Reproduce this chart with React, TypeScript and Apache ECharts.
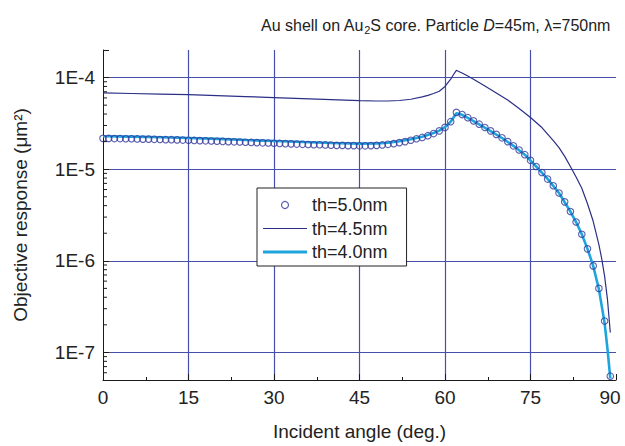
import React, { useEffect, useRef } from 'react';
import * as echarts from 'echarts';

// th = 5.0 nm (open circles), one point per degree
const th50Angles = [
  0, 1, 2, 3, 4, 5, 6, 7, 8, 9,
  10, 11, 12, 13, 14, 15, 16, 17, 18, 19,
  20, 21, 22, 23, 24, 25, 26, 27, 28, 29,
  30, 31, 32, 33, 34, 35, 36, 37, 38, 39,
  40, 41, 42, 43, 44, 45, 46, 47, 48, 49,
  50, 51, 52, 53, 54, 55, 56, 57, 58, 59,
  60, 61, 62, 63, 64, 65, 66, 67, 68, 69,
  70, 71, 72, 73, 74, 75, 76, 77, 78, 79,
  80, 81, 82, 83, 84, 85, 86, 87, 88, 89,
];
const th50Values = [
  2.17e-5, 2.17e-5, 2.16e-5, 2.16e-5, 2.15e-5, 2.15e-5, 2.14e-5, 2.13e-5, 2.13e-5, 2.12e-5,
  2.11e-5, 2.1e-5, 2.1e-5, 2.09e-5, 2.08e-5, 2.07e-5, 2.06e-5, 2.05e-5, 2.04e-5, 2.03e-5,
  2.02e-5, 2.01e-5, 2.0e-5, 1.99e-5, 1.98e-5, 1.97e-5, 1.96e-5, 1.95e-5, 1.94e-5, 1.93e-5,
  1.92e-5, 1.91e-5, 1.9e-5, 1.89e-5, 1.88e-5, 1.87e-5, 1.86e-5, 1.85e-5, 1.85e-5, 1.84e-5,
  1.83e-5, 1.82e-5, 1.82e-5, 1.81e-5, 1.81e-5, 1.8e-5, 1.8e-5, 1.81e-5, 1.82e-5, 1.84e-5,
  1.87e-5, 1.9e-5, 1.95e-5, 2.0e-5, 2.07e-5, 2.15e-5, 2.22e-5, 2.32e-5, 2.45e-5, 2.62e-5,
  2.86e-5, 3.3e-5, 4.17e-5, 3.95e-5, 3.65e-5, 3.37e-5, 3.1e-5, 2.85e-5, 2.62e-5, 2.4e-5,
  2.2e-5, 2.0e-5, 1.8e-5, 1.62e-5, 1.44e-5, 1.25e-5, 1.07e-5, 9.2e-6, 7.8e-6, 6.6e-6,
  5.5e-6, 4.4e-6, 3.45e-6, 2.65e-6, 1.95e-6, 1.35e-6, 8.8e-7, 5.0e-7, 2.2e-7, 5.5e-8,
];

// th = 4.5 nm (thin navy line)
const th45Angles = [
  0, 5, 10, 15, 20, 25, 30, 35, 40, 45,
  48, 50, 52, 54, 56, 57, 58, 59, 60, 61,
  61.5, 62, 62.5, 63, 64, 65, 67, 69, 71, 73,
  75, 77, 79, 80, 81, 82, 83, 84, 85, 86,
  87, 87.5, 88, 88.5, 89,
];
const th45Values = [
  6.8e-5, 6.7e-5, 6.6e-5, 6.5e-5, 6.35e-5, 6.2e-5, 6.05e-5, 5.9e-5, 5.75e-5, 5.6e-5,
  5.55e-5, 5.55e-5, 5.62e-5, 5.8e-5, 6.15e-5, 6.4e-5, 6.7e-5, 7.1e-5, 8.0e-5, 9.6e-5,
  1.08e-4, 1.2e-4, 1.16e-4, 1.12e-4, 1.04e-4, 9.6e-5, 8.1e-5, 6.8e-5, 5.7e-5, 4.6e-5,
  3.67e-5, 2.85e-5, 2.05e-5, 1.72e-5, 1.38e-5, 1.07e-5, 8.2e-6, 6.2e-6, 4.2e-6, 2.7e-6,
  1.5e-6, 1.05e-6, 6.8e-7, 3.8e-7, 1.65e-7,
];

// th = 4.0 nm (thick light-blue line)
const th40Angles = [
  0, 5, 10, 15, 20, 25, 30, 35, 40, 45,
  48, 50, 52, 54, 56, 58, 59, 60, 61, 62,
  63, 64, 66, 68, 70, 72, 74, 76, 78, 80,
  82, 83, 84, 85, 86, 87, 88, 88.5, 89,
];
const th40Values = [
  2.29e-5, 2.27e-5, 2.23e-5, 2.19e-5, 2.14e-5, 2.08e-5, 2.03e-5, 1.98e-5, 1.93e-5, 1.9e-5,
  1.91e-5, 1.94e-5, 2.02e-5, 2.12e-5, 2.26e-5, 2.48e-5, 2.64e-5, 2.88e-5, 3.3e-5, 4.08e-5,
  3.92e-5, 3.63e-5, 3.08e-5, 2.6e-5, 2.19e-5, 1.8e-5, 1.44e-5, 1.07e-5, 7.85e-6, 5.5e-6,
  3.45e-6, 2.65e-6, 1.95e-6, 1.35e-6, 8.8e-7, 4.9e-7, 2.1e-7, 1.1e-7, 5.2e-8,
];

const seriesNames = ['th=5.0nm', 'th=4.5nm', 'th=4.0nm'];
const xTickValues = [0, 15, 30, 45, 60, 75, 90];
const xTickLabels = ['0', '15', '30', '45', '60', '75', '90'];
const yDecades = [1e-7, 1e-6, 1e-5, 1e-4];
const yTickLabels = ['1E-7', '1E-6', '1E-5', '1E-4'];
const yMinorTicks = [
  6e-8, 7e-8, 8e-8, 9e-8,
  2e-7, 3e-7, 4e-7, 5e-7, 6e-7, 7e-7, 8e-7, 9e-7,
  2e-6, 3e-6, 4e-6, 5e-6, 6e-6, 7e-6, 8e-6, 9e-6,
  2e-5, 3e-5, 4e-5, 5e-5, 6e-5, 7e-5, 8e-5, 9e-5,
];

const FONT = '"Liberation Sans", Arial, Helvetica, sans-serif';
const TEXT = '#222222';
const AXIS = '#1a1a1a';
const GRID = '#4650a8';
const NAVY = '#2b2f86';
const CIRCLE = '#33389a';
const CYAN = '#1ea5de';

export default function App() {
  const ref = useRef<HTMLDivElement>(null);

  useEffect(() => {
    if (!ref.current) return;
    const chart = echarts.init(ref.current, undefined, { renderer: 'svg' });

    const pairs = (xs: number[], ys: number[]) => xs.map((x, i) => [x, ys[i]]);

    const option: any = {
      animation: false,
      backgroundColor: '#ffffff',
      textStyle: { fontFamily: FONT, color: TEXT },
      title: {
        text: 'Au shell on Au{sub|2}S core. Particle {it|D}=45m, λ=750nm',
        left: 256,
        top: 11,
        textStyle: {
          fontFamily: FONT,
          fontSize: 16,
          fontWeight: 'normal',
          color: TEXT,
          rich: {
            sub: { fontFamily: FONT, fontSize: 11, color: TEXT, padding: [8, 0, 0, 0] },
            it: { fontFamily: FONT, fontSize: 16, color: TEXT, fontStyle: 'italic' },
          },
        },
      },
      grid: {
        left: 103,
        right: 9,
        top: 50,
        bottom: 66,
        containLabel: false,
        outerBoundsMode: 'none',
      },
      legend: {
        left: 257,
        top: 188,
        orient: 'vertical',
        itemWidth: 44,
        itemHeight: 7,
        itemGap: 1.5,
        padding: [6, 19, 3, 6],
        backgroundColor: '#ffffff',
        borderColor: '#222222',
        borderWidth: 1,
        borderRadius: 0,
        selectedMode: false,
        textStyle: { fontFamily: FONT, fontSize: 18, color: TEXT, lineHeight: 22 },
        data: [
          {
            name: seriesNames[0],
            icon: 'circle',
            itemStyle: { color: 'rgba(0,0,0,0)', borderColor: CIRCLE, borderWidth: 1.2 },
          },
          {
            name: seriesNames[1],
            icon: 'path://M0,0H44V1.2H0Z',
            itemStyle: { color: NAVY, borderWidth: 0 },
          },
          {
            name: seriesNames[2],
            icon: 'path://M0,0H44V3H0Z',
            itemStyle: { color: CYAN, borderWidth: 0 },
          },
        ],
      },
      xAxis: {
        type: 'value',
        min: 0,
        max: 90,
        interval: 15,
        name: 'Incident angle (deg.)',
        nameLocation: 'middle',
        nameGap: 42,
        nameTextStyle: { fontFamily: FONT, fontSize: 19, color: TEXT },
        axisLine: { show: true, onZero: false, lineStyle: { color: AXIS, width: 1 } },
        axisTick: { show: true, inside: true, length: 6, lineStyle: { color: AXIS, width: 1 } },
        minorTick: { show: true, splitNumber: 2, length: 3, lineStyle: { color: AXIS, width: 1 } },
        axisLabel: {
          fontFamily: FONT,
          fontSize: 19,
          color: TEXT,
          margin: 8,
          formatter: (v: number) => {
            const i = xTickValues.indexOf(v);
            const label = i >= 0 ? xTickLabels[i] : String(v);
            return v === 90 ? '{last|' + label + '}' : label;
          },
          rich: {
            last: { fontFamily: FONT, fontSize: 19, color: TEXT, padding: [0, 12, 0, 0] },
          },
        },
        splitLine: {
          show: true,
          showMinLine: false,
          showMaxLine: false,
          lineStyle: { color: GRID, width: 1.2 },
        },
        minorSplitLine: { show: false },
      },
      yAxis: {
        type: 'log',
        logBase: 10,
        min: 5e-8,
        max: 2e-4,
        name: 'Objective response (μm²)',
        nameLocation: 'middle',
        nameRotate: 90,
        nameGap: 73,
        nameTextStyle: { fontFamily: FONT, fontSize: 19, color: TEXT },
        axisLine: { show: true, onZero: false, lineStyle: { color: AXIS, width: 1 } },
        axisTick: { show: true, inside: true, length: 6, lineStyle: { color: AXIS, width: 1 } },
        minorTick: { show: false },
        axisLabel: {
          fontFamily: FONT,
          fontSize: 19,
          color: TEXT,
          margin: 8,
          formatter: (v: number) => {
            for (let i = 0; i < yDecades.length; i++) {
              if (Math.abs(Math.log10(v) - Math.log10(yDecades[i])) < 1e-6) return yTickLabels[i];
            }
            return '';
          },
        },
        splitLine: {
          show: true,
          showMinLine: false,
          showMaxLine: false,
          lineStyle: { color: GRID, width: 1.2 },
        },
      },
      series: [
        {
          name: seriesNames[2],
          type: 'line',
          data: pairs(th40Angles, th40Values),
          symbol: 'none',
          showSymbol: false,
          smooth: false,
          lineStyle: { color: CYAN, width: 2.6 },
          itemStyle: { color: CYAN },
          z: 2,
        },
        {
          name: seriesNames[1],
          type: 'line',
          data: pairs(th45Angles, th45Values),
          symbol: 'none',
          showSymbol: false,
          smooth: false,
          lineStyle: { color: NAVY, width: 1.2 },
          itemStyle: { color: NAVY },
          z: 3,
        },
        {
          name: seriesNames[0],
          type: 'scatter',
          data: pairs(th50Angles, th50Values),
          symbol: 'circle',
          symbolSize: 6.5,
          itemStyle: { color: 'rgba(0,0,0,0)', borderColor: CIRCLE, borderWidth: 1.1 },
          z: 4,
        },
        {
          name: 'yMinorTicks',
          type: 'custom',
          silent: true,
          z: 5,
          data: yMinorTicks.map((v) => [0, v]),
          renderItem: (params: any, api: any) => {
            const p = api.coord([api.value(0), api.value(1)]);
            return {
              type: 'line',
              shape: { x1: p[0], y1: p[1], x2: p[0] + 4, y2: p[1] },
              style: { stroke: AXIS, lineWidth: 1 },
            };
          },
        },
      ],
    };

    chart.setOption(option);
    return () => {
      chart.dispose();
    };
  }, []);

  return (
    <div
      ref={ref}
      style={{ position: 'fixed', left: 0, top: 0, width: 625, height: 446, background: '#ffffff' }}
    />
  );
}
